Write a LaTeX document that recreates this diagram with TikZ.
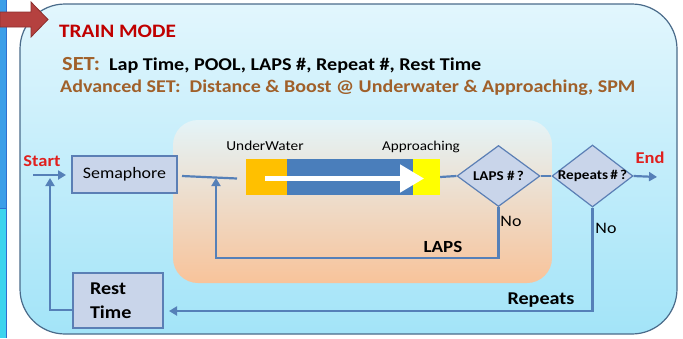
\documentclass[tikz,border=0pt]{standalone}
\usepackage{fontspec}
\setmainfont{Carlito}[FakeStretch=1.12]
\usetikzlibrary{shapes.geometric,arrows.meta}
\definecolor{stripeblue}{HTML}{3C9EE8}
\definecolor{stripecyan}{HTML}{3DD4EE}
\definecolor{stripeline}{HTML}{2F6FD0}
\definecolor{arrowred}{HTML}{B5413F}
\definecolor{arrowdark}{HTML}{8C2F2D}
\definecolor{maintop}{HTML}{E2F6FD}
\definecolor{mainbot}{HTML}{A3E4F8}
\definecolor{mainedge}{HTML}{4A6B8A}
\definecolor{innertop}{HTML}{E4F4F8}
\definecolor{innerbot}{HTML}{F8C39A}
\definecolor{boxfill}{HTML}{C9D5EA}
\definecolor{boxedge}{HTML}{5B7FB5}
\definecolor{flowc}{HTML}{5580B8}
\definecolor{titlered}{HTML}{C00000}
\definecolor{labelred}{HTML}{E0201E}
\definecolor{setbrown}{HTML}{A0602A}
\definecolor{uworange}{HTML}{FFC000}
\definecolor{barblue}{HTML}{4A7EBB}
\definecolor{apyellow}{HTML}{FFFF00}
\tikzset{
  procbox/.style={draw=boxedge, line width=1.2pt, fill=boxfill, inner sep=0pt},
  decision/.style={diamond, draw=boxedge, line width=1.2pt, fill=boxfill, inner sep=0pt},
  dtext/.style={inner sep=0pt, font=\fontsize{13.5}{15}\selectfont\bfseries},
  flowline/.style={draw=flowc, line width=2.2pt},
  flow/.style={flowline, -{Triangle[length=8pt,width=9pt]}},
  barpart/.style={inner sep=0pt, minimum height=36pt},
  lbl/.style={inner sep=0pt},
}
\begin{document}
\begin{tikzpicture}[x=1pt,y=-1pt]
\useasboundingbox (0,0) rectangle (683,338);
% left stripe
\fill[stripeblue] (0,0) rectangle (6,208);
\fill[stripecyan] (0,208) rectangle (6,338);
\draw[stripeline, line width=1pt] (0,208) -- (6,208);
\draw[stripeline, line width=1.4pt] (6.5,0) -- (6.5,338);
% main box
\path[draw=mainedge, line width=1.2pt, top color=maintop, bottom color=mainbot, rounded corners=45pt] (20,4) rectangle (677,334);
% red arrow
\draw[arrowdark, fill=arrowred, line width=0.8pt] (0,12) -- (31,12) -- (31,2) -- (48,19.5) -- (31,37) -- (31,27) -- (0,27) -- cycle;
% header texts
\node[lbl, anchor=base west, text=titlered, font=\fontsize{19}{22}\selectfont\bfseries] (title) at (59,37) {TRAIN MODE};
\node[lbl, anchor=base west, font=\fontsize{18}{20}\selectfont\bfseries] (set) at (62,70) {\textcolor{setbrown}{\fontsize{20}{22}\selectfont SET:}\hspace{9pt}Lap Time, POOL, LAPS \#, Repeat \#, Rest Time};
\node[lbl, anchor=base west, text=setbrown, font=\fontsize{17.9}{20}\selectfont\bfseries] (adv) at (60,92) {Advanced SET:\ \ Distance \& Boost @ Underwater \& Approaching, SPM};
% inner box
\path[top color=innertop, bottom color=innerbot, rounded corners=25pt] (173,120) rectangle (552,283);
% nodes
\node[procbox, minimum width=105pt, minimum height=37pt, font=\fontsize{16}{18}\selectfont] (sem) at (124.5,174.5) {Semaphore};
\node[procbox, minimum width=90pt, minimum height=55pt, text width=56pt, inner xsep=17pt, font=\fontsize{18}{24.5}\selectfont\bfseries, align=left] (rest) at (118,300.5) {Rest\\Time};
\node[barpart, fill=uworange, minimum width=41pt] (uw) at (266.5,177) {};
\node[barpart, fill=barblue, minimum width=126pt] (bar) at (350,177) {};
\node[barpart, fill=apyellow, minimum width=27pt] (ap) at (426.5,177) {};
\draw[white, line width=5pt, -{Triangle[length=24pt,width=27pt]}] (265,178.5) -- (424,178.5);
\node[decision, minimum width=83pt, minimum height=61pt] (laps) at (498.5,176) {};
\node[dtext] (lapst) at (laps.center) {LAPS \#\,?};
\node[decision, minimum width=81pt, minimum height=62pt] (rep) at (592.5,176) {};
\node[dtext] (rept) at (rep.center) {Repeats\,\#\,?};
% labels
\node[lbl, font=\fontsize{13.7}{15}\selectfont] (uwl) at (265,146) {UnderWater};
\node[lbl, font=\fontsize{13.5}{15}\selectfont] (apl) at (421,147) {Approaching};
\node[lbl, text=labelred, font=\fontsize{16.5}{19}\selectfont\bfseries] (startl) at (42,161) {Start};
\node[lbl, text=labelred, font=\fontsize{16.5}{19}\selectfont\bfseries] (endl) at (650,158) {End};
\node[lbl, font=\fontsize{16}{17}\selectfont] (no1) at (511,221) {No};
\node[lbl, font=\fontsize{16}{17}\selectfont] (no2) at (606,228) {No};
\node[lbl, font=\fontsize{17}{19}\selectfont\bfseries] (lapsl) at (443,247) {LAPS};
\node[lbl, font=\fontsize{18}{19}\selectfont\bfseries] (repl) at (541,300) {Repeats};
% coordinates
\coordinate (s0) at (33,175);
\coordinate (s1) at (66,175);
\coordinate (m1) at (182,176);
\coordinate (m2) at (237,178.5);
\coordinate (lapscorner) at (216,258);
\coordinate (loopend) at (216,178);
\coordinate (endtip) at (657,177);
\coordinate (repend) at (169,311);
\coordinate (rl) at (73,310);
\coordinate (startup) at (50,178);
% connectors
\draw[flow] (s0) -- (s1);
\draw[flowline] (m1) -- (m2);
\draw[flow] (laps.south) |- (lapscorner) -- (loopend);
\draw[flowline] (ap.east) -- (laps.west);
\draw[flowline] (laps.east) -- (rep.west);
\draw[flow] (rep.east) -- (endtip);
\draw[flow] (rep.south) |- (repend);
\draw[flow] (rl) -| (startup);
\end{tikzpicture}
\end{document}
